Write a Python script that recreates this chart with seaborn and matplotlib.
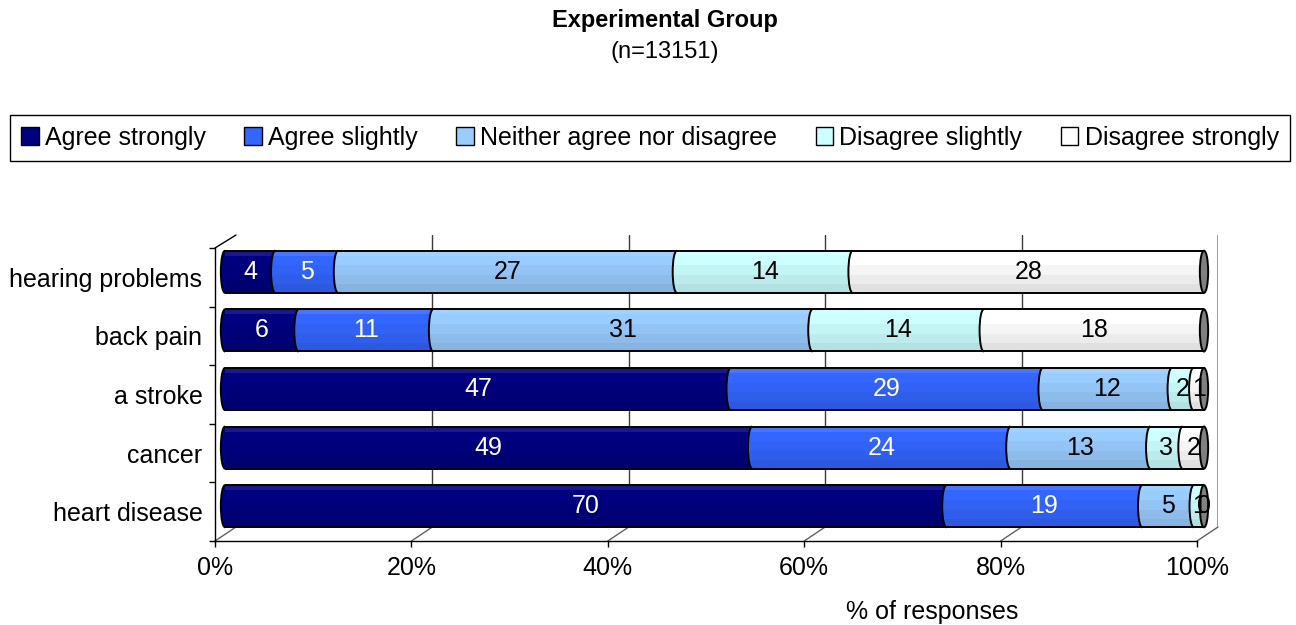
import numpy as np
import pandas as pd
import matplotlib
matplotlib.use("Agg")
import matplotlib.pyplot as plt
import seaborn as sns
from matplotlib.patches import Ellipse, Arc, Patch
from matplotlib.lines import Line2D

# ---------------- data ----------------
categories = ["hearing problems", "back pain", "a stroke", "cancer", "heart disease"]
series_names = ["Agree strongly", "Agree slightly", "Neither agree nor disagree",
                "Disagree slightly", "Disagree strongly"]
agree_strongly = [4, 6, 47, 49, 70]
agree_slightly = [5, 11, 29, 24, 19]
neither = [27, 31, 12, 13, 5]
disagree_slightly = [14, 14, 2, 3, 1]
disagree_strongly = [28, 18, 1, 2, 0]
x_ticks = [0, 0.2, 0.4, 0.6, 0.8, 1.0]
x_tick_labels = ["0%", "20%", "40%", "60%", "80%", "100%"]

colors = ["#000080", "#3366FF", "#99CCFF", "#CCFFFF", "#FFFFFF"]
text_colors = ["white", "white", "black", "black", "black"]

sns.set_theme(style="white")
plt.rcParams["font.family"] = ["Liberation Sans", "DejaVu Sans"]
plt.rcParams["text.color"] = "black"
plt.rcParams["xtick.color"] = "black"
plt.rcParams["ytick.color"] = "black"
plt.rcParams["xtick.labelcolor"] = "black"
plt.rcParams["ytick.labelcolor"] = "black"

FS = 18

values = np.array([agree_strongly, agree_slightly, neither, disagree_slightly, disagree_strongly], float)
totals = values.sum(axis=0)
shares = values / totals
cum = np.cumsum(shares, axis=0)

df = pd.DataFrame({"category": categories})
for i, name in enumerate(series_names):
    df[name] = cum[i]

W, H = 1296, 625
fig = plt.figure(figsize=(W / 100, H / 100), dpi=100)
fig.patch.set_facecolor("white")

def rect(l, r, top, bot):
    return [l / W, 1 - bot / H, (r - l) / W, (bot - top) / H]

# back wall axes (gridlines)
ax_back = fig.add_axes(rect(236, 1218, 235, 527))
ax_back.set_xlim(0, 1)
ax_back.set_ylim(0, 1)
ax_back.axis("off")
for t in x_ticks[1:]:
    ax_back.axvline(t, color="#3a3a3a" if t < 1 else "#909090", lw=1.0 if t < 1 else 2.0, zorder=0)

# front frame axes
ax_front = fig.add_axes(rect(215, 1197, 248, 541))
ax_front.set_facecolor("none")
ax_front.set_xlim(0, 1)
ax_front.set_ylim(len(categories) - 0.5, -0.5)
for s in ["top", "right"]:
    ax_front.spines[s].set_visible(False)
for s in ["left", "bottom"]:
    ax_front.spines[s].set_color("black")
    ax_front.spines[s].set_linewidth(1.0)
ax_front.set_xticks(x_ticks)
ax_front.set_xticklabels(x_tick_labels, fontsize=FS)
ax_front.set_yticks(np.arange(len(categories) + 1) - 0.5)
ax_front.set_yticklabels([])
ax_front.set_yticks(np.arange(len(categories)), minor=True)
ax_front.set_yticklabels(categories, minor=True, fontsize=FS)
ax_front.tick_params(axis="y", which="major", length=4, width=1, color="black", direction="out", left=True)
ax_front.tick_params(axis="y", which="minor", length=0, pad=9, left=True)
ax_front.tick_params(axis="x", length=4, width=1, color="black", direction="out", pad=7, bottom=True)
ax_front.grid(False)

# 3D connectors between front frame and back wall
def connect(p_front, p_back, color="#606060"):
    a = fig.transFigure.inverted().transform(ax_front.transData.transform(p_front))
    b = fig.transFigure.inverted().transform(ax_back.transData.transform(p_back))
    fig.add_artist(Line2D([a[0], b[0]], [a[1], b[1]], transform=fig.transFigure,
                          color=color, lw=1.0, zorder=0))

ymax = len(categories) - 0.5
for t in x_ticks:
    connect((t, ymax), (t, 0))
connect((0, -0.5), (0, 1), color="black")

# bar axes
ax = fig.add_axes(rect(225, 1204, 242.5, 535.5))
ax.set_facecolor("none")
bar_h = 0.72
for i in range(len(series_names) - 1, -1, -1):
    sns.barplot(data=df, x=series_names[i], y="category", color=colors[i], orient="h",
                width=bar_h, linewidth=0, saturation=1, ax=ax, zorder=2)
ax.set_xlim(0, 1)
ax.set_ylim(len(categories) - 0.5, -0.5)
ax.axis("off")

cap_w = 0.0085
for r in range(len(categories)):
    starts = np.concatenate([[0], cum[:-1, r]])
    # left caps of each segment
    for i in range(len(series_names)):
        if shares[i, r] <= 0:
            continue
        ax.add_patch(Ellipse((starts[i], r), cap_w, bar_h, facecolor=colors[i],
                             edgecolor="none", zorder=3, clip_on=False))
    # shading bands (cylinder look)
    bands = [(-0.5, -0.38, "white", 0.10),
             (-0.15, 0.08, "black", 0.04), (0.08, 0.3, "black", 0.08),
             (0.3, 0.5, "black", 0.12)]
    for y0, y1, c, a in bands:
        ax.fill_between([0, 1], r + y0 * bar_h, r + y1 * bar_h, color=c, alpha=a,
                        linewidth=0, zorder=4)
    # outlines
    ax.hlines([r - bar_h / 2, r + bar_h / 2], 0, 1, color="black", lw=1.4, zorder=5)
    for i in range(len(series_names)):
        if shares[i, r] <= 0:
            continue
        ax.add_patch(Arc((starts[i], r), cap_w, bar_h, theta1=90, theta2=270,
                         color="black", lw=1.4, zorder=5, clip_on=False))
    ax.add_patch(Ellipse((1.0, r), cap_w, bar_h, facecolor="#808080",
                         edgecolor="black", lw=1.4, zorder=6, clip_on=False))
    # labels
    for i in range(len(series_names)):
        xc = cum[i, r] - shares[i, r] / 2
        ax.text(xc, r, f"{int(values[i, r])}", ha="center", va="center", fontsize=FS,
                color=text_colors[i], zorder=7, clip_on=False)

# title
fig.text(665 / W, 1 - 21 / H, "Experimental Group", ha="center", va="center",
         fontsize=17, fontweight="bold")
fig.text(665 / W, 1 - 52 / H, "(n=13151)", ha="center", va="center", fontsize=17)

# legend
handles = [Patch(facecolor=c, edgecolor="black", lw=1.0) for c in colors]
fig.legend(handles, series_names, loc="lower left", ncol=5, mode="expand",
           bbox_to_anchor=(10 / W, 1 - 161 / H, 1280 / W, 48 / H), bbox_transform=fig.transFigure,
           frameon=True, fancybox=False, edgecolor="black", fontsize=FS,
           handlelength=0.7, handleheight=0.7, handletextpad=0.25, borderpad=0.45,
           borderaxespad=0, framealpha=1)
fig.legends[0].get_frame().set_linewidth(1.0)

# x-axis title
fig.text(932 / W, 1 - 612 / H, "% of responses", ha="center", va="center", fontsize=FS)

fig.savefig("out.png", dpi=100)
